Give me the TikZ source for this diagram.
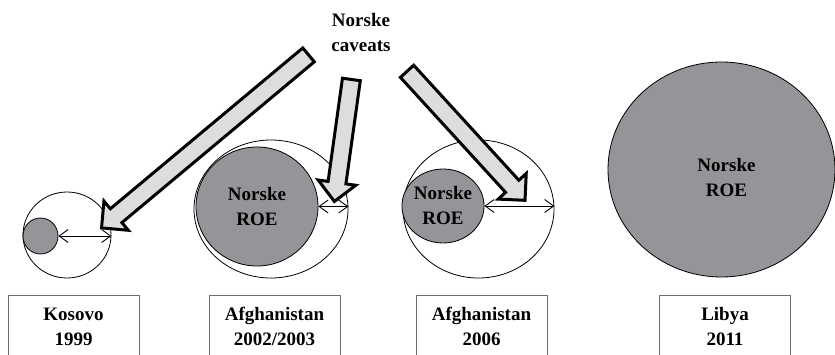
\documentclass[tikz,border=0pt]{standalone}
\usepackage{fontspec}
\setmainfont{Liberation Serif}
\usetikzlibrary{positioning,calc,shapes.geometric,shapes.arrows,arrows.meta}

\definecolor{roegray}{RGB}{147,149,152}
\definecolor{arrowgray}{RGB}{220,221,222}
\definecolor{boxgray}{RGB}{110,110,110}

\begin{document}
\begin{tikzpicture}[x=1pt, y=-1pt,
  font=\fontsize{19}{25}\selectfont\bfseries,
  mission/.style={ellipse, draw=black, line width=0.8pt, fill=white, inner sep=0pt},
  roe/.style={ellipse, draw=black, line width=0.8pt, fill=roegray, inner sep=0pt, align=center},
  yearbox/.style={draw=boxgray, line width=0.8pt, anchor=north, minimum width=131, minimum height=62, align=center},
  reach/.style={{Straight Barb[length=9pt,width=13pt]}-{Straight Barb[length=9pt,width=13pt]}, line width=0.9pt},
  caveat/.style={single arrow, draw=black, line width=3pt, fill=arrowgray, inner xsep=0pt, inner ysep=7.5pt,
    single arrow head extend=10pt, single arrow tip angle=90, minimum width=0pt}]

\clip (0,0) rectangle (835,355);

% outer reach of each mission
\foreach \n/\x/\y/\w/\h in {kos/67/235/88/86, afg1/271/209/154/138, afg2/478.5/209/151/138}
  \node [mission, minimum width=\w, minimum height=\h] (\n-out) at (\x,\y) {};

% norske ROE
\node [roe, minimum width=35, minimum height=36] (kos-in) at (40.5,236) {};
\node [roe, minimum width=122, minimum height=119] (afg1-in) at (257,206.5) {Norske\\ROE};
\node [roe, minimum width=80, minimum height=74] (afg2-in) at (443,206) {Norske\\ROE};
\node [roe, minimum width=227, minimum height=215] (lib-in) at (721.5,169.5) {};
\node [align=center] (lib-txt) at ($(lib-in.center)+(5,8)$) {Norske\\ROE};

\foreach \n in {kos,afg1,afg2}
  \draw [reach] (\n-in.east) -- (\n-in.east -| \n-out.east);

\node [yearbox] (kos-box) at (73.5,295) {Kosovo\\1999};
\node [yearbox] (afg1-box) at (274.5,295) {Afghanistan\\2002/2003};
\node [yearbox] (afg2-box) at (481.5,295) {Afghanistan\\2006};
\node [yearbox] (lib-box) at (725,295) {Libya\\2011};

\node [align=center] (caveats) at (361,33) {Norske\\caveats};

\coordinate (tail-kos) at (312,52);   \coordinate (tip-kos) at (105,225);
\coordinate (tail-afg1) at (352,75);  \coordinate (tip-afg1) at (335,197);
\coordinate (tail-afg2) at (404,68);  \coordinate (tip-afg2) at (522,197);

\foreach \a in {kos,afg1,afg2}
  \path let \p1=($(tip-\a)-(tail-\a)$), \n1={veclen(\x1,\y1)} in
    (tail-\a) -- (tip-\a) node [caveat, midway, sloped, allow upside down, minimum height=\n1] {};

\end{tikzpicture}
\end{document}
